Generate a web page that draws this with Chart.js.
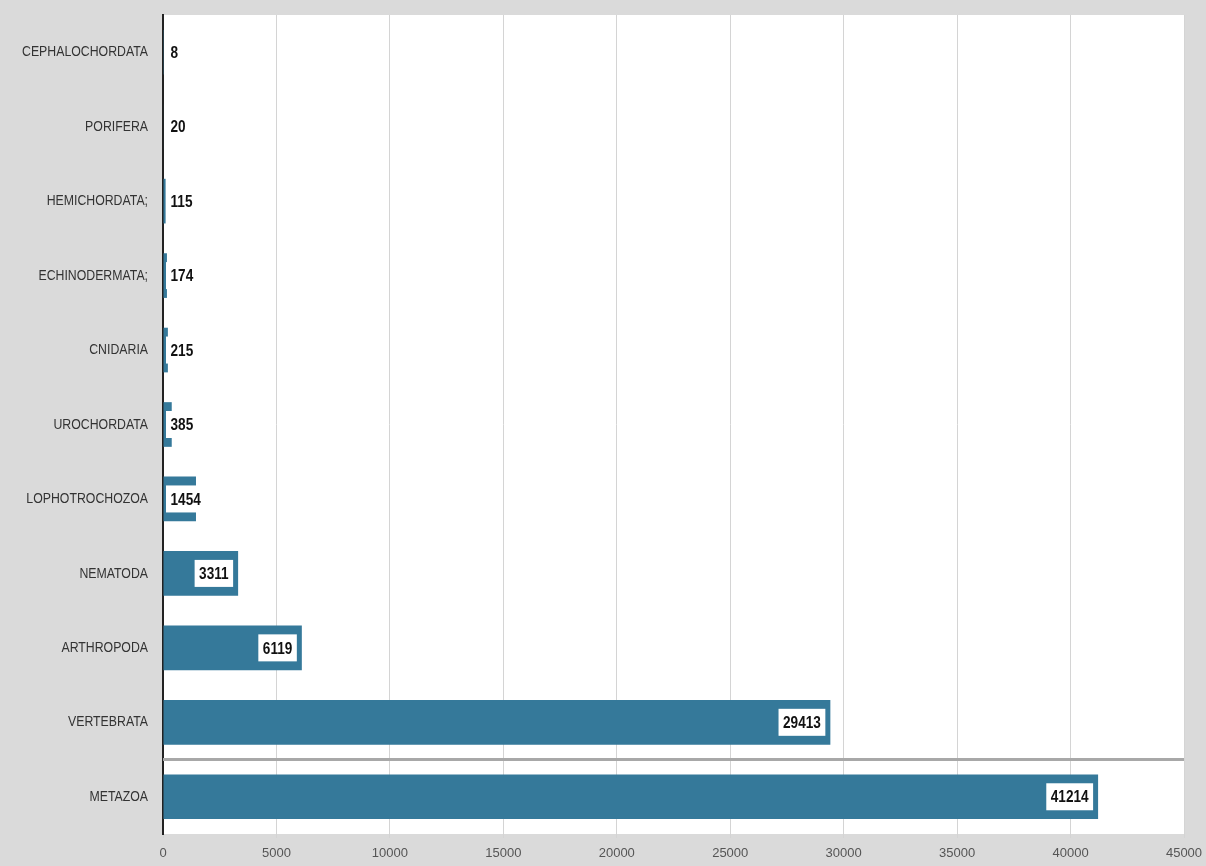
<!DOCTYPE html>
<html>
<head>
<meta charset="utf-8">
<script src="https://cdn.jsdelivr.net/npm/chart.js@4.4.1/dist/chart.umd.min.js"></script>
<style>
  html, body { margin: 0; padding: 0; background: #dadada; }
  #wrap { width: 1206px; height: 866px; }
</style>
</head>
<body>
<div id="wrap"><canvas id="c" width="1206" height="866"></canvas></div>
<script>
const categories = ["CEPHALOCHORDATA", "PORIFERA", "HEMICHORDATA;", "ECHINODERMATA;", "CNIDARIA", "UROCHORDATA", "LOPHOTROCHOZOA", "NEMATODA", "ARTHROPODA", "VERTEBRATA", "METAZOA"];
const counts = [8, 20, 115, 174, 215, 385, 1454, 3311, 6119, 29413, 41214];
const xTicks = [0, 5000, 10000, 15000, 20000, 25000, 30000, 35000, 40000, 45000];

const FONT = "'Liberation Sans', Arial, sans-serif";

const bgPlugin = {
  id: 'bg',
  beforeDraw(chart) {
    const ctx = chart.ctx, a = chart.chartArea;
    ctx.save();
    ctx.fillStyle = '#dadada';
    ctx.fillRect(0, 0, chart.width, chart.height);
    ctx.fillStyle = '#ffffff';
    ctx.fillRect(a.left, a.top, a.right - a.left, a.bottom - a.top);
    ctx.restore();
  }
};

const sepPlugin = {
  id: 'sep',
  afterDatasetsDraw(chart) {
    const y = chart.scales.y, a = chart.chartArea, ctx = chart.ctx;
    const iV = categories.indexOf('VERTEBRATA'), iM = categories.indexOf('METAZOA');
    const py = (y.getPixelForValue(iV) + y.getPixelForValue(iM)) / 2;
    ctx.save();
    ctx.strokeStyle = '#a8a8a8';
    ctx.lineWidth = 3;
    ctx.beginPath();
    ctx.moveTo(a.left, py);
    ctx.lineTo(a.right, py);
    ctx.stroke();
    ctx.restore();
  }
};

// condensed category labels, positioned from the y scale
const catLabelPlugin = {
  id: 'catlabels',
  afterDraw(chart) {
    const ctx = chart.ctx, y = chart.scales.y;
    const sx = 0.82;
    const right = y.right - 15;
    ctx.save();
    ctx.font = "15px " + FONT;
    ctx.fillStyle = '#333333';
    ctx.textBaseline = 'middle';
    ctx.textAlign = 'right';
    categories.forEach((c, i) => {
      const py = y.getPixelForValue(i);
      ctx.save();
      ctx.translate(right, py);
      ctx.scale(sx, 1);
      ctx.fillText(c, 0, 0);
      ctx.restore();
    });
    ctx.restore();
  }
};

const labelPlugin = {
  id: 'vlabels',
  afterDatasetsDraw(chart) {
    const ctx = chart.ctx;
    const meta = chart.getDatasetMeta(0);
    const x0 = chart.scales.x.getPixelForValue(0);
    const sx = 0.8;
    ctx.save();
    ctx.font = "bold 17px " + FONT;
    ctx.textBaseline = 'middle';
    ctx.textAlign = 'left';
    meta.data.forEach((bar, i) => {
      const txt = String(counts[i]);
      const w = ctx.measureText(txt).width * sx;
      const bw = w + 9, bh = 27;
      let left = bar.x - 5 - bw;
      if (left < x0 + 3) left = x0 + 3;
      ctx.fillStyle = '#ffffff';
      ctx.fillRect(left, bar.y - bh / 2, bw, bh);
      ctx.fillStyle = '#111111';
      ctx.save();
      ctx.translate(left + 4.5, bar.y + 1);
      ctx.scale(sx, 1);
      ctx.fillText(txt, 0, 0);
      ctx.restore();
    });
    ctx.restore();
  }
};

new Chart(document.getElementById('c'), {
  type: 'bar',
  data: {
    labels: categories,
    datasets: [{
      data: counts,
      backgroundColor: '#35799a',
      borderWidth: 0,
      categoryPercentage: 1.0,
      barPercentage: 0.6
    }]
  },
  options: {
    indexAxis: 'y',
    responsive: false,
    animation: false,
    layout: { padding: { top: 15, right: 22, left: 0, bottom: 0 } },
    plugins: {
      legend: { display: false },
      tooltip: { enabled: false }
    },
    scales: {
      x: {
        min: 0,
        max: 45000,
        afterBuildTicks(scale) { scale.ticks = xTicks.map(v => ({ value: v })); },
        afterFit(scale) { scale.height = 32; scale.paddingLeft = 0; scale.paddingRight = 0; },
        grid: { color: '#d4d4d4', lineWidth: 1, tickLength: 4, drawTicks: true },
        border: { display: false },
        ticks: {
          color: '#555555',
          font: { family: FONT, size: 13 },
          padding: 8,
          maxRotation: 0,
          autoSkip: false,
          callback: (v) => String(v)
        }
      },
      y: {
        afterFit(scale) { scale.width = 163; scale.paddingTop = 0; scale.paddingBottom = 0; },
        grid: { display: false, drawTicks: false },
        border: { display: true, color: '#222222', width: 2 },
        ticks: { display: false }
      }
    }
  },
  plugins: [bgPlugin, sepPlugin, labelPlugin, catLabelPlugin]
});
</script>
</body>
</html>
